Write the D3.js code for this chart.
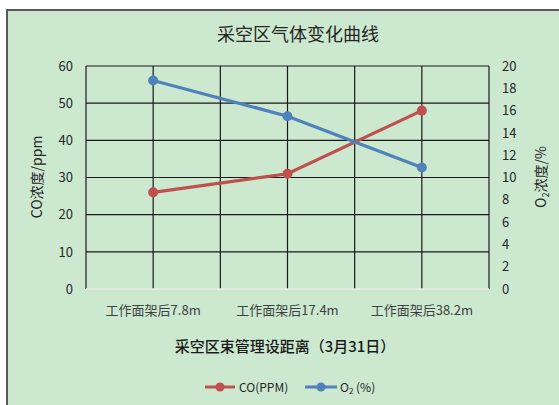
<!DOCTYPE html>
<html><head><meta charset="utf-8">
<script src="https://cdn.jsdelivr.net/npm/d3@7"></script>
<style>body{margin:0;background:#fff}svg{display:block}</style>
</head><body>
<script>
const categories = ["工作面架后7.8m", "工作面架后17.4m", "工作面架后38.2m"];
const coValues = [26, 31, 48];
const o2Values = [18.7, 15.5, 10.9];
const leftTicks = [0, 10, 20, 30, 40, 50, 60];
const rightTicks = [0, 2, 4, 6, 8, 10, 12, 14, 16, 18, 20];
const title = "采空区气体变化曲线";
const xTitle = "采空区束管理设距离（3月31日）";
const yLeftTitle = "CO浓度/ppm";

const W = 559, H = 405;
const font = "'Noto Sans CJK SC', 'Noto Sans', sans-serif";
const svg = d3.select("body").append("svg").attr("width", W).attr("height", H);
svg.append("rect").attr("x", 7).attr("y", 10).attr("width", W).attr("height", H)
  .attr("fill", "#cce8cf").attr("stroke", "#5a5a5a").attr("stroke-width", 2);

const L = 86, R = 489, T = 66, B = 289;
const x = d3.scaleBand().domain(categories).range([L, R]);
const yL = d3.scaleLinear().domain([0, 60]).range([B, T]);
const yR = d3.scaleLinear().domain([0, 20]).range([B, T]);

const g = svg.append("g");
g.selectAll(".hg").data(leftTicks.filter(d => d > 0)).enter().append("line")
  .attr("x1", L).attr("x2", R).attr("y1", d => yL(d)).attr("y2", d => yL(d))
  .attr("stroke", "#1a1a1a").attr("stroke-width", 1.2);
const vlines = [];
categories.forEach(c => { vlines.push(x(c)); vlines.push(x(c) + x.bandwidth() / 2); });
vlines.push(R);
g.selectAll(".vg").data(vlines).enter().append("line")
  .attr("x1", d => d).attr("x2", d => d).attr("y1", T).attr("y2", B)
  .attr("stroke", "#1a1a1a").attr("stroke-width", 1.2);
g.append("line").attr("x1", L).attr("x2", R).attr("y1", B).attr("y2", B)
  .attr("stroke", "#e8ece8").attr("stroke-width", 1.5);

const la = svg.append("g").attr("transform", `translate(${L},0)`)
  .call(d3.axisLeft(yL).tickValues(leftTicks).tickSize(0).tickPadding(13));
la.select(".domain").remove();
la.selectAll("text").attr("font-family", font).attr("font-size", 13).attr("fill", "#262626");
const ra = svg.append("g").attr("transform", `translate(${R},0)`)
  .call(d3.axisRight(yR).tickValues(rightTicks).tickSize(0).tickPadding(13));
ra.select(".domain").remove();
ra.selectAll("text").attr("font-family", font).attr("font-size", 13).attr("fill", "#262626");
const xa = svg.append("g").attr("transform", `translate(0,${B})`)
  .call(d3.axisBottom(x).tickSize(0).tickPadding(17));
xa.select(".domain").remove();
xa.selectAll("text").attr("font-family", font).attr("font-size", 13).attr("fill", "#404040");

const cx = c => x(c) + x.bandwidth() / 2;
const lineCO = d3.line().x((d, i) => cx(categories[i])).y(d => yL(d));
const lineO2 = d3.line().x((d, i) => cx(categories[i])).y(d => yR(d));
svg.append("path").attr("d", lineCO(coValues)).attr("fill", "none").attr("stroke", "#c0504d").attr("stroke-width", 3.2);
svg.append("path").attr("d", lineO2(o2Values)).attr("fill", "none").attr("stroke", "#4f81bd").attr("stroke-width", 3.2);
svg.selectAll(".mco").data(coValues).enter().append("circle")
  .attr("cx", (d, i) => cx(categories[i])).attr("cy", d => yL(d)).attr("r", 5).attr("fill", "#c0504d");
svg.selectAll(".mo2").data(o2Values).enter().append("circle")
  .attr("cx", (d, i) => cx(categories[i])).attr("cy", d => yR(d)).attr("r", 5).attr("fill", "#4f81bd");

svg.append("text").attr("x", 298).attr("y", 41).attr("text-anchor", "middle")
  .attr("font-family", font).attr("font-size", 18).attr("fill", "#262626").text(title);
svg.append("text").attr("x", 285).attr("y", 352).attr("text-anchor", "middle")
  .attr("font-family", font).attr("font-size", 15).attr("font-weight", 500).attr("fill", "#1a1a1a").text(xTitle);
svg.append("text").attr("transform", "translate(42,177) rotate(-90)").attr("text-anchor", "middle")
  .attr("font-family", font).attr("font-size", 14).attr("fill", "#262626").text(yLeftTitle);
const rt = svg.append("text").attr("transform", "translate(546,177) rotate(-90)").attr("text-anchor", "middle")
  .attr("font-family", font).attr("font-size", 14).attr("fill", "#262626");
rt.append("tspan").text("O");
rt.append("tspan").attr("font-size", 9).attr("dy", 3).text("2");
rt.append("tspan").attr("dy", -3).text("浓度/%");

const leg = svg.append("g");
leg.append("line").attr("x1", 205).attr("x2", 235).attr("y1", 387).attr("y2", 387).attr("stroke", "#c0504d").attr("stroke-width", 3);
leg.append("circle").attr("cx", 220).attr("cy", 387).attr("r", 4.5).attr("fill", "#c0504d");
leg.append("text").attr("x", 239).attr("y", 392).attr("font-family", font).attr("font-size", 12).attr("fill", "#262626").text("CO(PPM)");
leg.append("line").attr("x1", 305).attr("x2", 337).attr("y1", 387).attr("y2", 387).attr("stroke", "#4f81bd").attr("stroke-width", 3);
leg.append("circle").attr("cx", 321).attr("cy", 387).attr("r", 4.5).attr("fill", "#4f81bd");
const lt = leg.append("text").attr("x", 340).attr("y", 392).attr("font-family", font).attr("font-size", 12).attr("fill", "#262626");
lt.append("tspan").text("O");
lt.append("tspan").attr("font-size", 8).attr("dy", 2).text("2");
lt.append("tspan").attr("dy", -2).text(" (%)");
</script>
</body></html>
